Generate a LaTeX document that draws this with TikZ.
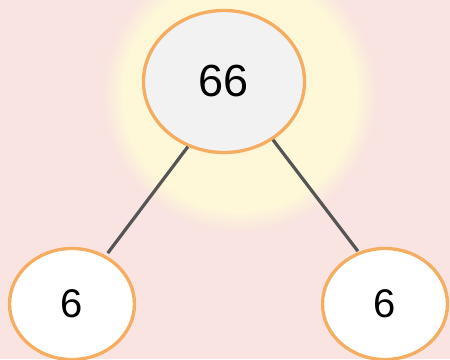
\documentclass[tikz,border=0pt]{standalone}
\usepackage{fontspec}
\setmainfont{Liberation Sans}
\usetikzlibrary{shapes.geometric}
\definecolor{bgpink}{HTML}{F9E4E1}
\definecolor{glowy}{HTML}{FEF7D8}
\definecolor{nodeorange}{HTML}{F5AD62}
\definecolor{topfill}{HTML}{F2F2F2}
\definecolor{linegray}{HTML}{555555}
\tikzset{
  numnode/.style={ellipse, draw=nodeorange, line width=3.3pt, inner sep=0pt, text=black},
  topnode/.style={numnode, fill=topfill, minimum width=161pt, minimum height=142pt, font=\fontsize{45}{48}\selectfont},
  leafnode/.style={numnode, fill=white, minimum width=125pt, minimum height=111pt, font=\fontsize{40}{44}\selectfont},
  link/.style={draw=linegray, line width=3.2pt}
}
\begin{document}
\begin{tikzpicture}[x=1pt,y=-1pt]
\useasboundingbox (0,0) rectangle (450,359);
\fill[bgpink] (0,0) rectangle (450,359);
\begin{scope}
\clip (0,0) rectangle (450,359);
\foreach \i in {0,...,10} {
  \pgfmathsetmacro{\pc}{\i*10}
  \fill[glowy!\pc!bgpink] (240,95) circle[radius={138-2*\i}];
}
\end{scope}
\node[topnode] (top) at (224,81.5) {66};
\node[leafnode] (l) at (72,304) {6};
\node[leafnode] (r) at (385,304) {6};
\draw[link, shorten >=3pt] (top.241) -- (l.55);
\draw[link, shorten >=1pt] (top.310) -- (r.117);
\end{tikzpicture}
\end{document}
